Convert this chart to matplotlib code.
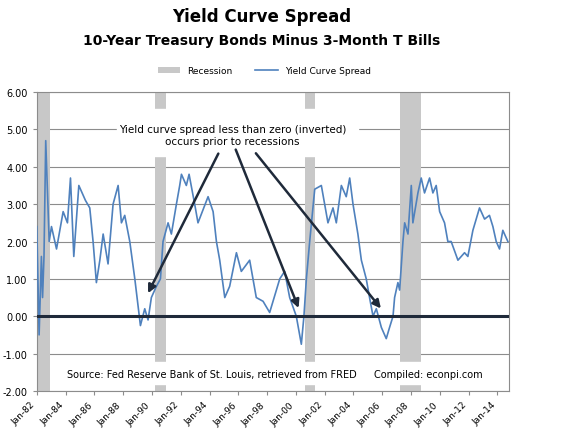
import matplotlib
matplotlib.use('Agg')
import matplotlib.pyplot as plt
from matplotlib.patches import Rectangle

years = [1982.0, 1982.16, 1982.32, 1982.4, 1982.5, 1982.62, 1982.86, 1983.02, 1983.37, 1983.83,
         1984.13, 1984.34, 1984.57, 1984.92, 1985.38, 1985.68, 1985.91, 1986.14, 1986.38, 1986.61,
         1986.95, 1987.3, 1987.65, 1987.88, 1988.11, 1988.46, 1988.81, 1989.2, 1989.5, 1989.73,
         1989.96, 1990.31, 1990.59, 1990.77, 1991.12, 1991.35, 1991.7, 1991.93, 1992.05, 1992.39,
         1992.58, 1992.97, 1993.2, 1993.9, 1994.25, 1994.48, 1994.71, 1995.06, 1995.4, 1995.87,
         1996.21, 1996.79, 1997.25, 1997.72, 1998.18, 1998.88, 1999.22, 1999.57, 2000.03, 2000.38,
         2000.56, 2000.73, 2000.96, 2001.31, 2001.77, 2002.0, 2002.23, 2002.58, 2002.81, 2003.16,
         2003.5, 2003.74, 2003.97, 2004.31, 2004.55, 2004.89, 2005.12, 2005.36, 2005.59, 2005.94,
         2006.28, 2006.51, 2006.75, 2006.86, 2007.09, 2007.21, 2007.44, 2007.56, 2007.79, 2008.02,
         2008.13, 2008.48, 2008.71, 2008.94, 2009.29, 2009.52, 2009.75, 2009.99, 2010.33, 2010.56,
         2010.79, 2011.26, 2011.72, 2011.95, 2012.3, 2012.76, 2013.11, 2013.45, 2013.69, 2013.92,
         2014.15, 2014.38, 2014.73]
spread = [2.4, -0.5, 1.6, 0.5, 1.6, 4.7, 2.0, 2.4, 1.8, 2.8,
          2.5, 3.7, 1.6, 3.5, 3.1, 2.9, 2.0, 0.9, 1.5, 2.2,
          1.4, 3.0, 3.5, 2.5, 2.7, 2.0, 1.0, -0.25, 0.2, -0.1,
          0.5, 0.8, 1.0, 2.0, 2.5, 2.2, 3.0, 3.5, 3.8, 3.5,
          3.8, 3.0, 2.5, 3.2, 2.8, 2.0, 1.5, 0.5, 0.8, 1.7,
          1.2, 1.5, 0.5, 0.4, 0.1, 1.0, 1.2, 0.5, 0.0, -0.75,
          0.0, 1.0, 2.0, 3.4, 3.5, 3.0, 2.5, 2.9, 2.5, 3.5,
          3.2, 3.7, 3.0, 2.2, 1.5, 1.0, 0.5, 0.0, 0.2, -0.3,
          -0.6, -0.3, 0.0, 0.5, 0.9, 0.7, 2.0, 2.5, 2.2, 3.5,
          2.5, 3.3, 3.7, 3.3, 3.7, 3.3, 3.5, 2.8, 2.5, 2.0,
          2.0, 1.5, 1.7, 1.6, 2.3, 2.9, 2.6, 2.7, 2.4, 2.0,
          1.8, 2.3, 2.0]
recessions = [(1982.0, 1982.9), (1990.24, 1991.0), (2000.61, 2001.35), (2007.21, 2008.71)]
tick_years = list(range(1982, 2015, 2))
tick_labels = ['Jan-%02d' % (y % 100) for y in tick_years]

fig = plt.figure(figsize=(5.75, 4.35), dpi=100)
ax = fig.add_axes([0.064, 0.099, 0.821, 0.687])

for i, (a, b) in enumerate(recessions):
    ax.axvspan(a, b, color='#c8c8c8', lw=0, zorder=1, label='Recession' if i == 0 else None)
ax.plot(years, spread, color='#4f81bd', lw=1.2, zorder=3, label='Yield Curve Spread')
ax.axhline(0, color='#1f2a3a', lw=2.2, zorder=4)

ax.set_xlim(1982.0, 2014.8)
ax.set_ylim(-2, 6)
ax.set_yticks(range(-2, 7))
ax.set_yticklabels(['%.2f' % v for v in range(-2, 7)], fontsize=7)
ax.yaxis.grid(True, color='#8c8c8c', lw=0.8)
ax.set_axisbelow(True)
ax.set_xticks(tick_years)
ax.set_xticklabels(tick_labels, rotation=45, ha='right', fontsize=6.5)
ax.tick_params(length=3, color='#8c8c8c')
for s in ax.spines.values():
    s.set_color('#8c8c8c')

# white boxes behind the notes
ax.add_patch(Rectangle((1987.6, 4.3), 16.7, 1.25, color='white', zorder=2))
ax.add_patch(Rectangle((1983.2, -1.82), 30.3, 0.6, color='white', zorder=2))

ax.text(1995.6, 4.85, 'Yield curve spread less than zero (inverted)\noccurs prior to recessions',
        ha='center', va='center', fontsize=7.5, zorder=5, linespacing=1.3)
arrow = dict(arrowstyle='-|>', color='#1f2a3a', lw=1.8, mutation_scale=12)
ax.annotate('', xy=(1989.64, 0.55), xytext=(1994.7, 4.42), arrowprops=arrow, zorder=5)
ax.annotate('', xy=(2000.26, 0.15), xytext=(1995.75, 4.53), arrowprops=arrow, zorder=5)
ax.annotate('', xy=(2006.03, 0.15), xytext=(1997.1, 4.42), arrowprops=arrow, zorder=5)

ax.text(1984.1, -1.54, 'Source: Fed Reserve Bank of St. Louis, retrieved from FRED',
        va='center', fontsize=7, zorder=5)
ax.text(2005.4, -1.54, 'Compiled: econpi.com', va='center', fontsize=7, zorder=5)

fig.text(0.455, 0.962, 'Yield Curve Spread', ha='center', va='center', fontsize=12, fontweight='bold')
fig.text(0.455, 0.905, '10-Year Treasury Bonds Minus 3-Month T Bills', ha='center', va='center',
         fontsize=10, fontweight='bold')
fig.legend(loc='center', bbox_to_anchor=(0.46, 0.835), ncol=2, frameon=False, fontsize=6.5,
           handlelength=2.5, columnspacing=2.5)

fig.savefig('out.png', dpi=100)
